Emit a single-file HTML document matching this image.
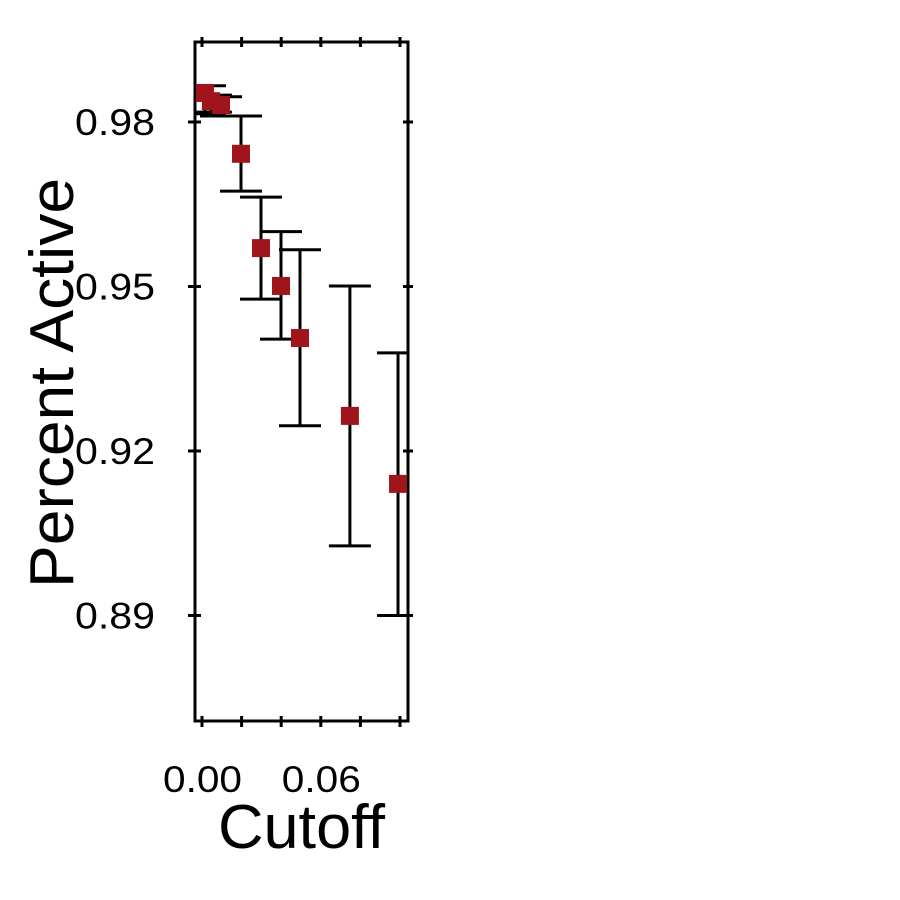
<!DOCTYPE html>
<html><head><meta charset="utf-8"><style>
body{margin:0;background:#fff}
svg{display:block;font-family:"Liberation Sans",sans-serif}
</style></head><body>
<svg id="chart" width="900" height="900" viewBox="0 0 900 900">
<defs><clipPath id="clip"><rect x="196" y="43" width="211" height="677"/></clipPath></defs>
<rect width="900" height="900" fill="#fff"/>
<g id="g"></g>
</svg>
<script>
const cutoffs=[0.0015,0.0045,0.0096,0.0197,0.0298,0.0399,0.0495,0.0747,0.099];
const means=[0.9853,0.9838,0.9831,0.9742,0.957,0.9501,0.9406,0.9264,0.914];
const lows=[0.9815,0.9818,0.9811,0.9674,0.9477,0.9404,0.9246,0.9027,0.89];
const highs=[0.9866,0.9849,0.9846,0.9811,0.9663,0.96,0.9567,0.9501,0.9379];
const yTicks=[0.89,0.92,0.95,0.98];
const yTickLabels=["0.89","0.92","0.95","0.98"];
const xTicks=[0,0.02,0.04,0.06,0.08,0.1];
const xTickLabels=["0.00","","","0.06","",""];
const X=v=>202+v*1980;
const Y=v=>122+(0.98-v)*5483;
const NS="http://www.w3.org/2000/svg";
const g=document.getElementById('g');
function mk(t,a,p){const e=document.createElementNS(NS,t);for(const k in a)e.setAttribute(k,a[k]);(p||g).appendChild(e);return e;}
let e=mk('rect',{x:195,y:42,width:213,height:679,fill:'none',stroke:'#000','stroke-width':3});


yTicks.forEach((v,i)=>{
 let t=mk('line',{x1:188,x2:201,y1:Y(v),y2:Y(v),stroke:'#000','stroke-width':3});
 
 
 let t2=mk('line',{x1:403,x2:413,y1:Y(v),y2:Y(v),stroke:'#000','stroke-width':3});
 
 
 let l=mk('text',{x:155,y:Y(v)+13,'text-anchor':'end','font-size':37,textLength:80,lengthAdjust:'spacingAndGlyphs'});
 l.textContent=yTickLabels[i];
 
 
});
xTicks.forEach((v,i)=>{
 let t=mk('line',{x1:X(v),x2:X(v),y1:716,y2:727,stroke:'#000','stroke-width':3});
 
 
 let t2=mk('line',{x1:X(v),x2:X(v),y1:37,y2:47,stroke:'#000','stroke-width':3});
 
 
 if(xTickLabels[i]){let l=mk('text',{x:X(v)-39,y:792,'font-size':37,textLength:79,lengthAdjust:'spacingAndGlyphs'});
 l.textContent=xTickLabels[i];
 
 }
});
const cg=mk('g',{'clip-path':'url(#clip)'});
cutoffs.forEach((c,i)=>{
 const x=X(c);
 let p=mk('path',{d:`M${x} ${Y(lows[i])}V${Y(highs[i])}M${x-21} ${Y(lows[i])}h42M${x-21} ${Y(highs[i])}h42`,stroke:'#000','stroke-width':3,fill:'none'},cg);
 
 
});
cutoffs.forEach((c,i)=>{
 let r=mk('rect',{x:X(c)-9,y:Y(means[i])-9,width:18,height:18,fill:'#a0141c'});
 
 
});
let xt=mk('text',{x:218,y:848,'font-size':62,textLength:167,lengthAdjust:'spacingAndGlyphs'});
xt.textContent='Cutoff';


let yt=mk('text',{x:-205,y:0,'font-size':62,textLength:410,lengthAdjust:'spacingAndGlyphs',transform:'translate(73,383) rotate(-90)'});
yt.textContent='Percent Active';


</script>
</body></html>
